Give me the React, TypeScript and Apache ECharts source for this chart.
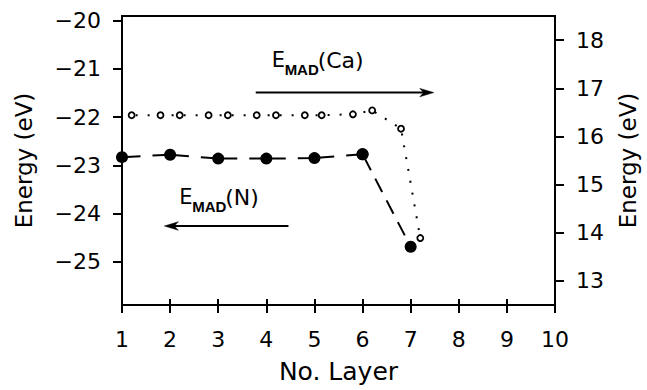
import React, { useEffect, useRef } from "react";
import * as echarts from "echarts";

// ---- data ----
const layers = [1, 2, 3, 4, 5, 6, 7];
const madN = [-22.83, -22.78, -22.86, -22.86, -22.85, -22.77, -24.69];
const caLayers = [1.2, 1.8, 2.2, 2.8, 3.2, 3.8, 4.2, 4.8, 5.15, 5.8, 6.2, 6.8, 7.2];
const madCa = [16.44, 16.44, 16.44, 16.44, 16.44, 16.44, 16.44, 16.44, 16.44, 16.46, 16.54, 16.16, 13.89];
const xTicks = [1, 2, 3, 4, 5, 6, 7, 8, 9, 10];
const leftTicks = [-25, -24, -23, -22, -21, -20];
const rightTicks = [13, 14, 15, 16, 17, 18];

// annotation anchors (data coords on left axis)
const arrowCa = [[3.78, -21.49], [7.48, -21.49]];
const arrowN = [[4.46, -24.26], [1.88, -24.26]];
const labelCa = { at: [4.11, -20.82], tail: "(Ca)" };
const labelN = { at: [2.19, -23.66], tail: "(N)" };

const FONT = "DejaVu Sans";

export default function App() {
  const ref = useRef<HTMLDivElement>(null);
  useEffect(() => {
    if (!ref.current) return;
    const chart = echarts.init(ref.current, undefined, { renderer: "svg" });
    const nPts = layers.map((x, i) => [x, madN[i]]);
    const caPts = caLayers.map((x, i) => [x, madCa[i]]);
    const black = "#000";
    const axisCommon = {
      axisLine: { show: true, lineStyle: { color: black, width: 2 } },
      splitLine: { show: false },
    };
    const option: any = {
      animation: false,
      backgroundColor: "#fff",
      grid: {
        left: 122,
        right: 88,
        top: 16,
        bottom: 85,
        show: true,
        borderColor: black,
        borderWidth: 2,
        backgroundColor: "transparent",
      },
      xAxis: [
        {
          type: "value",
          position: "bottom",
          min: 1,
          max: 10,
          ...axisCommon,
          axisTick: { show: true, inside: false, length: 8, lineStyle: { color: black, width: 2 }, customValues: xTicks },
          axisLabel: { color: black, fontFamily: FONT, fontSize: 22, margin: 23, customValues: xTicks },
          name: "No. Layer",
          nameLocation: "middle",
          nameGap: 54,
          nameTextStyle: { color: black, fontFamily: FONT, fontSize: 25 },
        },
        {
          type: "value",
          position: "bottom",
          min: 1,
          max: 10,
          axisLine: { show: false },
          splitLine: { show: false },
          axisTick: { show: true, inside: true, length: 6, lineStyle: { color: black, width: 2 }, customValues: xTicks },
          axisLabel: { show: false },
        },
      ],
      yAxis: [
        {
          type: "value",
          position: "left",
          min: -25.9,
          max: -19.9,
          ...axisCommon,
          axisTick: { show: true, inside: false, length: 9, lineStyle: { color: black, width: 2 }, customValues: leftTicks },
          axisLabel: {
            color: black,
            fontFamily: FONT,
            fontSize: 22,
            margin: 21,
            customValues: leftTicks,
            formatter: (v: number) => String(v).replace("-", "\u2212"),
          },
          name: "Energy (eV)",
          nameLocation: "middle",
          nameGap: 87,
          nameTextStyle: { color: black, fontFamily: FONT, fontSize: 23 },
        },
        {
          type: "value",
          position: "right",
          min: 12.5,
          max: 18.5,
          ...axisCommon,
          axisTick: { show: true, inside: false, length: 9, lineStyle: { color: black, width: 2 }, customValues: rightTicks },
          axisLabel: { color: black, fontFamily: FONT, fontSize: 22, margin: 21, customValues: rightTicks },
          name: "Energy (eV)",
          nameLocation: "middle",
          nameGap: 61,
          nameTextStyle: { color: black, fontFamily: FONT, fontSize: 23 },
        },
      ],
      series: [
        {
          name: "E_MAD(N)",
          type: "line",
          xAxisIndex: 0,
          yAxisIndex: 0,
          data: nPts.slice(0, 6),
          symbol: "circle",
          symbolSize: 12,
          itemStyle: { color: black },
          lineStyle: { color: black, width: 2, type: [36.5, 12], dashOffset: 18.25 },
          z: 3,
        },
        {
          name: "E_MAD(N) drop",
          type: "line",
          xAxisIndex: 0,
          yAxisIndex: 0,
          data: nPts.slice(5),
          symbol: "circle",
          symbolSize: 12,
          itemStyle: { color: black },
          lineStyle: { color: black, width: 2, type: [15, 9.5], dashOffset: -3.5 },
          z: 3,
        },
        {
          name: "E_MAD(Ca)",
          type: "line",
          xAxisIndex: 0,
          yAxisIndex: 1,
          data: caPts,
          symbol: "circle",
          symbolSize: 6,
          itemStyle: { color: "#fff", borderColor: black, borderWidth: 1.8 },
          lineStyle: { color: black, width: 2, type: [2, 10], dashOffset: -4 },
          z: 4,
        },
      ],
    };
    chart.setOption(option);

    const px = (p: number[]) => chart.convertToPixel({ xAxisIndex: 0, yAxisIndex: 0 }, p) as number[];
    const makeArrow = (pts: number[][]) => {
      const a = px(pts[0]);
      const b = px(pts[1]);
      const dx = b[0] - a[0];
      const dy = b[1] - a[1];
      const len = Math.sqrt(dx * dx + dy * dy);
      const ux = dx / len;
      const uy = dy / len;
      const nx = -uy;
      const ny = ux;
      const headL = 14;
      const headW = 4.2;
      return [
        {
          type: "line",
          shape: { x1: a[0], y1: a[1], x2: b[0] - ux * 8, y2: b[1] - uy * 8 },
          style: { stroke: black, lineWidth: 2 },
          z: 10,
        },
        {
          type: "polygon",
          shape: {
            points: [
              [b[0], b[1]],
              [b[0] - ux * headL + nx * headW, b[1] - uy * headL + ny * headW],
              [b[0] - ux * (headL - 4), b[1] - uy * (headL - 4)],
              [b[0] - ux * headL - nx * headW, b[1] - uy * headL - ny * headW],
            ],
          },
          style: { fill: black, stroke: black, lineWidth: 0.5 },
          z: 10,
        },
      ];
    };
    const makeLabel = (lab: { at: number[]; tail: string }) => {
      const p = px(lab.at);
      return [
        {
          type: "text",
          x: p[0],
          y: p[1],
          style: { text: "E", fill: black, font: `21px "${FONT}"`, align: "left", verticalAlign: "middle" },
          z: 10,
        },
        {
          type: "text",
          x: p[0] + 13,
          y: p[1] + 9,
          style: { text: "MAD", fill: black, font: `bold 15px "Liberation Sans"`, align: "left", verticalAlign: "middle" },
          z: 10,
        },
        {
          type: "text",
          x: p[0] + 46,
          y: p[1] + 0.5,
          style: { text: lab.tail, fill: black, font: `22px "${FONT}"`, align: "left", verticalAlign: "middle" },
          z: 10,
        },
      ];
    };
    chart.setOption({
      graphic: [
        ...makeArrow(arrowCa),
        ...makeArrow(arrowN),
        ...makeLabel(labelCa),
        ...makeLabel(labelN),
      ],
    });
    return () => chart.dispose();
  }, []);
  return (
    <div
      ref={ref}
      style={{ position: "fixed", left: 0, top: 0, width: 647, height: 390, background: "#fff" }}
    />
  );
}
